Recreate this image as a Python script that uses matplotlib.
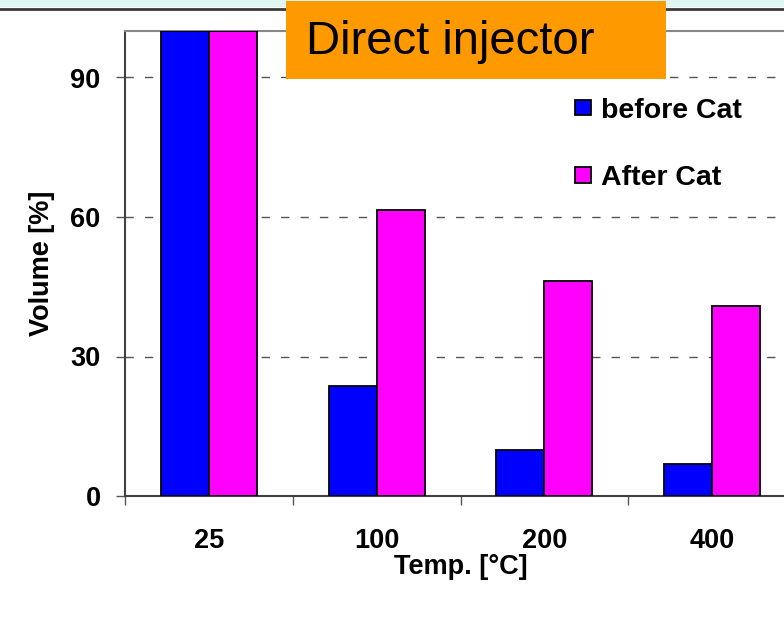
import numpy as np
import matplotlib.pyplot as plt
from matplotlib.patches import Rectangle
from matplotlib.lines import Line2D

temps = ['25', '100', '200', '400']
before_cat = [100, 23.7, 9.9, 6.9]
after_cat = [100, 61.6, 46.3, 40.9]

plt.rcParams['font.family'] = ['Liberation Sans', 'DejaVu Sans']

fig = plt.figure(figsize=(7.84, 6.28), dpi=100)
W, H = 784, 628
fs = 19.5

# top band of the slide
fig.patches.append(Rectangle((0, 1 - 7 / H), 1, 7 / H, transform=fig.transFigure,
                             facecolor='#dff5f2', edgecolor='none', zorder=0))
fig.lines.append(Line2D([0, 1], [1 - 8.5 / H, 1 - 8.5 / H], transform=fig.transFigure,
                        color='#3a3a3a', lw=2, zorder=1))

ax = fig.add_axes([125 / W, 132 / H, 671 / W, 465 / H])
x = np.arange(len(temps))
bw = 0.286
ax.bar(x - bw / 2, before_cat, bw, color='#0000ff', edgecolor='black', lw=1.3,
       label='before Cat', zorder=3)
ax.bar(x + bw / 2, after_cat, bw, color='#ff00ff', edgecolor='black', lw=1.3,
       label='After Cat', zorder=3)

ax.set_xlim(-0.5, 3.5)
ax.set_ylim(0, 100)
ax.set_yticks([0, 30, 60, 90])
ax.yaxis.grid(True, ls=(0, (6, 8)), color='#555555', lw=1, zorder=0)
ax.set_axisbelow(True)

ax.set_xticks(x)
ax.set_xticklabels(temps, fontsize=fs, fontweight='bold')
ax.set_xticks(np.arange(-0.5, 3.6, 1), minor=True)
ax.tick_params(axis='x', which='major', length=0, pad=23)
ax.tick_params(axis='x', which='minor', length=6.5, direction='out', color='#555555', width=1)
ax.tick_params(axis='y', length=6.5, direction='out', color='#555555', width=1, pad=11,
               labelsize=fs)
for t in ax.get_yticklabels():
    t.set_fontweight('bold')

ax.spines['left'].set_color('#404040')
ax.spines['left'].set_lw(1.5)
ax.spines['bottom'].set_color('#404040')
ax.spines['bottom'].set_lw(1.5)
ax.spines['top'].set_color('#888888')
ax.spines['top'].set_lw(1.5)
ax.spines['right'].set_visible(False)

ax.set_xlabel('Temp. [°C]', fontsize=fs, fontweight='bold', labelpad=0)
ax.set_ylabel('Volume [%]', fontsize=fs, fontweight='bold', labelpad=11)

ax.legend(loc='upper left', bbox_to_anchor=(549 / W, 1 - 72 / H), bbox_transform=fig.transFigure,
          frameon=False, prop={'weight': 'bold', 'size': 20.5},
          handlelength=0.56, handleheight=0.46, handletextpad=0.35, labelspacing=1.45)

# title box
fig.patches.append(Rectangle((286 / W, 1 - 79 / H), 380 / W, 78 / H, transform=fig.transFigure,
                             facecolor='#ff9900', edgecolor='none', zorder=5))
fig.text(306 / W, 1 - 42 / H, 'Direct injector', fontsize=34, ha='left', va='center',
         zorder=6)

fig.savefig('out.png', dpi=100)
